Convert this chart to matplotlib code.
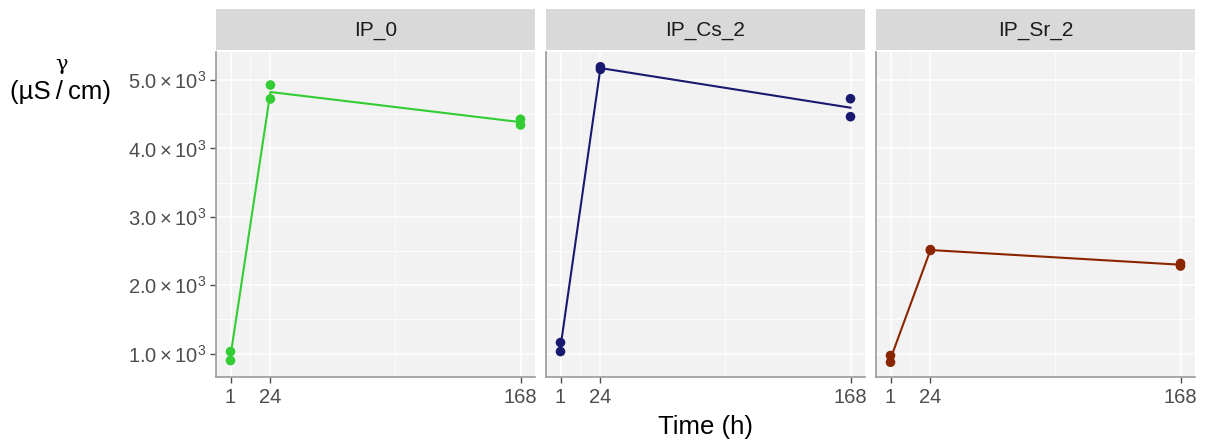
import matplotlib
matplotlib.use("Agg")
import matplotlib.pyplot as plt
import numpy as np

plt.rcParams['font.family'] = ['Liberation Sans', 'DejaVu Sans']
plt.rcParams['mathtext.fontset'] = 'custom'
plt.rcParams['mathtext.rm'] = 'Liberation Sans'
plt.rcParams['mathtext.it'] = 'Liberation Sans:italic'
plt.rcParams['mathtext.bf'] = 'Liberation Sans:bold'

# ---- data ----
panels = ["IP_0", "IP_Cs_2", "IP_Sr_2"]
colors = ["#32CD32", "#191970", "#8B2500"]
time_h = [1, 1, 24, 24, 168, 168]
ip0 = [1029, 898, 4927, 4723, 4426, 4343]
ipcs2 = [1161, 1029, 5194, 5156, 4727, 4464]
ipsr2 = [971, 873, 2520, 2508, 2318, 2280]
series = [ip0, ipcs2, ipsr2]
x_ticks = [1, 24, 168]
y_ticks = [1000, 2000, 3000, 4000, 5000]
y_tick_labels = [r"$1.0\times10^{3}$", r"$2.0\times10^{3}$", r"$3.0\times10^{3}$",
                 r"$4.0\times10^{3}$", r"$5.0\times10^{3}$"]

W, H = 1205, 444
fig = plt.figure(figsize=(W / 100, H / 100), dpi=100)

all_y = np.concatenate([np.array(s) for s in series])
ymin, ymax = all_y.min(), all_y.max()
yr = ymax - ymin
ylim = (ymin - 0.05 * yr, ymax + 0.05 * yr)
xr = max(x_ticks) - min(x_ticks)
xlim = (min(x_ticks) - 0.05 * xr, max(x_ticks) + 0.05 * xr)

panel_left = [216, 546, 876]
pw = 319
ptop, pbot = 52, 377
strip_top, strip_bot = 9, 50

tick_color = "#4D4D4D"
for i, (name, col, vals) in enumerate(zip(panels, colors, series)):
    l = panel_left[i]
    ax = fig.add_axes([l / W, (H - pbot) / H, pw / W, (pbot - ptop) / H])
    ax.set_facecolor("#F2F2F2")
    ax.set_xlim(xlim)
    ax.set_ylim(ylim)
    # grid
    for yt in y_ticks:
        ax.axhline(yt, color="white", lw=1.1, zorder=0)
    for k in range(len(y_ticks) - 1):
        ax.axhline((y_ticks[k] + y_ticks[k + 1]) / 2, color="white", lw=0.55, zorder=0)
    for xt in x_ticks:
        ax.axvline(xt, color="white", lw=1.1, zorder=0)
    for k in range(len(x_ticks) - 1):
        ax.axvline((x_ticks[k] + x_ticks[k + 1]) / 2, color="white", lw=0.55, zorder=0)
    # mean line
    t = np.array(time_h)
    v = np.array(vals)
    ut = np.unique(t)
    means = [v[t == u].mean() for u in ut]
    ax.plot(ut, means, color=col, lw=1.5, zorder=2)
    ax.scatter(t, v, color=col, s=48, zorder=3, edgecolors='none')
    # spines
    for s in ["top", "right"]:
        ax.spines[s].set_visible(False)
    for s in ["left", "bottom"]:
        ax.spines[s].set_color("#9A9A9A")
        ax.spines[s].set_linewidth(1.2)
    ax.set_xticks(x_ticks)
    ax.set_xticklabels([str(x) for x in x_ticks])
    ax.tick_params(axis='x', colors=tick_color, labelsize=14.5, length=4, width=1, pad=4)
    ax.set_yticks(y_ticks)
    if i == 0:
        ax.set_yticklabels(y_tick_labels)
        ax.tick_params(axis='y', colors=tick_color, labelsize=14.5, length=4, width=1, pad=3)
    else:
        ax.set_yticklabels([])
        ax.tick_params(axis='y', length=0)
    # strip
    sax = fig.add_axes([l / W, (H - strip_bot) / H, pw / W, (strip_bot - strip_top) / H])
    sax.set_facecolor("#D9D9D9")
    sax.set_xticks([]); sax.set_yticks([])
    for s in sax.spines.values():
        s.set_visible(False)
    sax.text(0.5, 0.48, name, ha="center", va="center", fontsize=15, color="#1A1A1A",
             transform=sax.transAxes)

# axis titles
fig.text(705 / W, 1 - 427 / H, "Time (h)", ha="center", va="center", fontsize=18.5, color="black")
fig.text(61 / W, 1 - 64 / H, "\u03b3", ha="center", va="center", fontsize=15,
         family=["DejaVu Serif"], color="black")
fig.text(61 / W, 1 - 92 / H, "(\u00b5S\u2009/\u2009cm)", ha="center", va="center", fontsize=18.5,
         color="black")

fig.savefig("out.png", dpi=100)
